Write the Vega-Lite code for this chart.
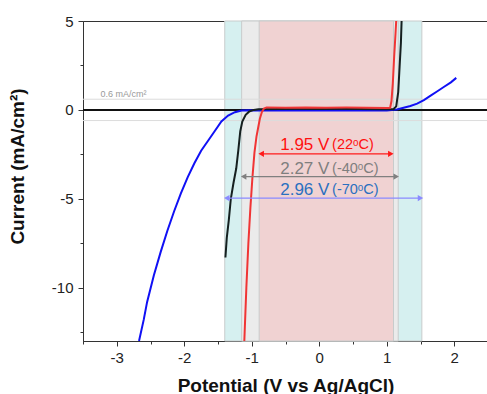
{
  "$schema": "https://vega.github.io/schema/vega-lite/v6.json",
  "width": 405,
  "height": 320,
  "autosize": "none",
  "padding": {"left": 83, "top": 21, "right": 0, "bottom": 53},
  "config": {"font": "Liberation Sans", "view": {"stroke": "#333", "strokeWidth": 1}},
  "resolve": {"scale": {"color": "independent"}},
  "datasets": {
    "bands": [
      {"name": "cyan", "x1": -1.4, "x2": 1.52},
      {"name": "gray", "x1": -1.15, "x2": 1.17},
      {"name": "red", "x1": -0.89, "x2": 1.1}
    ],
    "hlines": [{"y": 0.6}, {"y": -0.6}],
    "curves": [
      {"s": "-70", "x": -2.67, "y": -13}, {"s": "-70", "x": -2.6, "y": -11.8}, {"s": "-70", "x": -2.55, "y": -10.8},
      {"s": "-70", "x": -2.45, "y": -9.3}, {"s": "-70", "x": -2.35, "y": -8.0}, {"s": "-70", "x": -2.25, "y": -6.8},
      {"s": "-70", "x": -2.15, "y": -5.7}, {"s": "-70", "x": -2.05, "y": -4.7}, {"s": "-70", "x": -1.95, "y": -3.8},
      {"s": "-70", "x": -1.85, "y": -3.0}, {"s": "-70", "x": -1.75, "y": -2.3}, {"s": "-70", "x": -1.65, "y": -1.75},
      {"s": "-70", "x": -1.55, "y": -1.2}, {"s": "-70", "x": -1.45, "y": -0.65}, {"s": "-70", "x": -1.35, "y": -0.32},
      {"s": "-70", "x": -1.25, "y": -0.13}, {"s": "-70", "x": -1.15, "y": -0.04}, {"s": "-70", "x": -1.05, "y": -0.02},
      {"s": "-70", "x": -0.8, "y": -0.03}, {"s": "-70", "x": -0.5, "y": -0.04}, {"s": "-70", "x": -0.2, "y": -0.03},
      {"s": "-70", "x": 0.1, "y": -0.04}, {"s": "-70", "x": 0.4, "y": -0.03}, {"s": "-70", "x": 0.7, "y": -0.04},
      {"s": "-70", "x": 1.0, "y": -0.03}, {"s": "-70", "x": 1.15, "y": 0.02}, {"s": "-70", "x": 1.25, "y": 0.12},
      {"s": "-70", "x": 1.35, "y": 0.22}, {"s": "-70", "x": 1.45, "y": 0.35}, {"s": "-70", "x": 1.55, "y": 0.55},
      {"s": "-70", "x": 1.65, "y": 0.8}, {"s": "-70", "x": 1.75, "y": 1.05}, {"s": "-70", "x": 1.85, "y": 1.3},
      {"s": "-70", "x": 1.95, "y": 1.55}, {"s": "-70", "x": 2.03, "y": 1.8},
      {"s": "-40", "x": -1.39, "y": -8.3}, {"s": "-40", "x": -1.37, "y": -7.2}, {"s": "-40", "x": -1.34, "y": -6.2},
      {"s": "-40", "x": -1.31, "y": -5.0}, {"s": "-40", "x": -1.27, "y": -4.1}, {"s": "-40", "x": -1.23, "y": -3.3},
      {"s": "-40", "x": -1.2, "y": -2.3}, {"s": "-40", "x": -1.17, "y": -1.2}, {"s": "-40", "x": -1.14, "y": -0.66},
      {"s": "-40", "x": -1.09, "y": -0.28}, {"s": "-40", "x": -1.04, "y": -0.1}, {"s": "-40", "x": -0.97, "y": 0.0},
      {"s": "-40", "x": -0.9, "y": 0.04}, {"s": "-40", "x": -0.6, "y": 0.05}, {"s": "-40", "x": -0.3, "y": 0.06},
      {"s": "-40", "x": 0.0, "y": 0.05}, {"s": "-40", "x": 0.3, "y": 0.06}, {"s": "-40", "x": 0.6, "y": 0.05},
      {"s": "-40", "x": 0.9, "y": 0.04}, {"s": "-40", "x": 1.1, "y": 0.04}, {"s": "-40", "x": 1.14, "y": 0.2},
      {"s": "-40", "x": 1.17, "y": 1.0}, {"s": "-40", "x": 1.19, "y": 2.4}, {"s": "-40", "x": 1.21, "y": 3.8},
      {"s": "-40", "x": 1.22, "y": 5},
      {"s": "22", "x": -1.11, "y": -13}, {"s": "22", "x": -1.08, "y": -10}, {"s": "22", "x": -1.05, "y": -7.5},
      {"s": "22", "x": -1.02, "y": -5.5}, {"s": "22", "x": -0.99, "y": -3.8}, {"s": "22", "x": -0.96, "y": -2.4},
      {"s": "22", "x": -0.93, "y": -1.5}, {"s": "22", "x": -0.91, "y": -1.1}, {"s": "22", "x": -0.88, "y": -0.5},
      {"s": "22", "x": -0.85, "y": -0.12}, {"s": "22", "x": -0.82, "y": 0.08}, {"s": "22", "x": -0.78, "y": 0.14},
      {"s": "22", "x": -0.5, "y": 0.12}, {"s": "22", "x": -0.2, "y": 0.14}, {"s": "22", "x": 0.1, "y": 0.12},
      {"s": "22", "x": 0.4, "y": 0.13}, {"s": "22", "x": 0.7, "y": 0.12}, {"s": "22", "x": 1.0, "y": 0.1},
      {"s": "22", "x": 1.05, "y": 0.12}, {"s": "22", "x": 1.07, "y": 0.5}, {"s": "22", "x": 1.09, "y": 1.5},
      {"s": "22", "x": 1.11, "y": 3.0}, {"s": "22", "x": 1.13, "y": 4.3}, {"s": "22", "x": 1.14, "y": 5}
    ],
    "arrows": [
      {"s": "22", "y": -2.47, "x1": -0.86, "x2": 1.06},
      {"s": "-40", "y": -3.75, "x1": -1.12, "x2": 1.14},
      {"s": "-70", "y": -4.96, "x1": -1.37, "x2": 1.5}
    ],
    "labels": [
      {"s": "22", "main": "1.95 V", "sub": "(22ᵒC)", "y": -1.97},
      {"s": "-40", "main": "2.27 V", "sub": "(-40ᵒC)", "y": -3.31},
      {"s": "-70", "main": "2.96 V", "sub": "(-70ᵒC)", "y": -4.53}
    ],
    "note": [{"x": -3.24, "y": 0.71, "t": "0.6 mA/cm²"}]
  },
  "encoding": {
    "x": {
      "type": "quantitative",
      "scale": {"domain": [-3.5, 2.5], "nice": false, "zero": false},
      "axis": {
        "title": "Potential (V vs Ag/AgCl)",
        "values": [-3.5, -3, -2.5, -2, -1.5, -1, -0.5, 0, 0.5, 1, 1.5, 2, 2.5],
        "labelExpr": "datum.value % 1 === 0 ? '' + datum.value : ''",
        "labelFlush": false,
        "grid": false,
        "domainColor": "#333",
        "tickColor": "#333",
        "tickSize": {"condition": {"test": "datum.value % 1 !== 0", "value": 3}, "value": 5},
        "labelFontSize": 15,
        "labelColor": "#222",
        "labelPadding": 4,
        "titleFontSize": 19,
        "titleFontWeight": "bold",
        "titleColor": "#111",
        "titleBaseline": "alphabetic",
        "titleY": 50
      }
    },
    "y": {
      "type": "quantitative",
      "scale": {"domain": [-13, 5], "nice": false, "zero": false},
      "axis": {
        "title": "Current (mA/cm²)",
        "values": [5, 2.5, 0, -2.5, -5, -7.5, -10, -12.5],
        "labelExpr": "datum.value % 5 === 0 ? '' + datum.value : ''",
        "labelFlush": false,
        "grid": false,
        "domainColor": "#333",
        "tickColor": "#333",
        "tickSize": {"condition": {"test": "datum.value % 5 !== 0", "value": 3}, "value": 5},
        "labelFontSize": 15,
        "labelColor": "#222",
        "labelPadding": 5,
        "titleFontSize": 19,
        "titleFontWeight": "bold",
        "titleColor": "#111",
        "titleX": -56,
        "titleY": 145
      }
    }
  },
  "layer": [
    {
      "data": {"name": "bands"},
      "mark": {"type": "rect", "stroke": "#c8cccc", "strokeWidth": 1},
      "encoding": {
        "x": {"field": "x1", "type": "quantitative"},
        "x2": {"field": "x2"},
        "color": {"field": "name", "type": "nominal", "legend": null,
          "scale": {"domain": ["cyan", "gray", "red"], "range": ["#d6f0f0", "#ebebeb", "#f0d2d2"]}}
      }
    },
    {
      "data": {"name": "hlines"},
      "mark": {"type": "rule", "color": "#dcdcdc", "strokeWidth": 1},
      "encoding": {"y": {"field": "y", "type": "quantitative"}}
    },
    {
      "data": {"values": [{"y": 0}]},
      "mark": {"type": "rule", "color": "#111", "strokeWidth": 2},
      "encoding": {"y": {"field": "y", "type": "quantitative"}}
    },
    {
      "data": {"name": "note"},
      "mark": {"type": "text", "align": "left", "baseline": "alphabetic", "fontSize": 9, "color": "#999"},
      "encoding": {
        "x": {"field": "x", "type": "quantitative"},
        "y": {"field": "y", "type": "quantitative"},
        "text": {"field": "t"}
      }
    },
    {
      "data": {"name": "curves"},
      "mark": {"type": "line", "strokeWidth": 2, "clip": true},
      "encoding": {
        "x": {"field": "x", "type": "quantitative"},
        "y": {"field": "y", "type": "quantitative"},
        "color": {"field": "s", "type": "nominal", "legend": null,
          "scale": {"domain": ["-70", "-40", "22"], "range": ["#1010f5", "#152020", "#f03535"]}},
        "order": {"field": "x", "type": "quantitative"}
      }
    },
    {
      "data": {"name": "arrows"},
      "mark": {"type": "rule", "strokeWidth": 1.3},
      "encoding": {
        "x": {"field": "x1", "type": "quantitative"},
        "x2": {"field": "x2"},
        "y": {"field": "y", "type": "quantitative"},
        "color": {"field": "s", "type": "nominal", "legend": null,
          "scale": {"domain": ["-70", "-40", "22"], "range": ["#8a8aff", "#808080", "#ff1a1a"]}}
      }
    },
    {
      "data": {"name": "arrows"},
      "mark": {"type": "point", "shape": "triangle-left", "filled": true, "size": 40, "opacity": 1},
      "encoding": {
        "x": {"field": "x1", "type": "quantitative"},
        "y": {"field": "y", "type": "quantitative"},
        "color": {"field": "s", "type": "nominal", "legend": null,
          "scale": {"domain": ["-70", "-40", "22"], "range": ["#8a8aff", "#808080", "#ff1a1a"]}}
      }
    },
    {
      "data": {"name": "arrows"},
      "mark": {"type": "point", "shape": "triangle-right", "filled": true, "size": 40, "opacity": 1},
      "encoding": {
        "x": {"field": "x2", "type": "quantitative"},
        "y": {"field": "y", "type": "quantitative"},
        "color": {"field": "s", "type": "nominal", "legend": null,
          "scale": {"domain": ["-70", "-40", "22"], "range": ["#8a8aff", "#808080", "#ff1a1a"]}}
      }
    },
    {
      "data": {"name": "labels"},
      "mark": {"type": "text", "align": "right", "baseline": "middle", "fontSize": 17},
      "encoding": {
        "x": {"datum": 0.15, "type": "quantitative"},
        "y": {"field": "y", "type": "quantitative"},
        "text": {"field": "main"},
        "color": {"field": "s", "type": "nominal", "legend": null,
          "scale": {"domain": ["-70", "-40", "22"], "range": ["#2a70c0", "#7f7f7f", "#ff1010"]}}
      }
    },
    {
      "data": {"name": "labels"},
      "mark": {"type": "text", "align": "left", "baseline": "middle", "fontSize": 14.5},
      "encoding": {
        "x": {"datum": 0.19, "type": "quantitative"},
        "y": {"field": "y", "type": "quantitative"},
        "text": {"field": "sub"},
        "color": {"field": "s", "type": "nominal", "legend": null,
          "scale": {"domain": ["-70", "-40", "22"], "range": ["#2a70c0", "#7f7f7f", "#ff1010"]}}
      }
    }
  ]
}
